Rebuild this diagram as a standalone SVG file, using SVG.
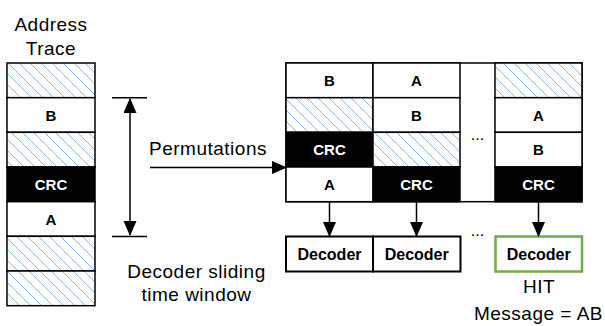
<svg xmlns="http://www.w3.org/2000/svg" width="605" height="326" viewBox="0 0 605 326">
<defs>
<pattern id="hatch" patternUnits="userSpaceOnUse" width="11" height="11">
<rect width="11" height="11" fill="#fff"/>
<path d="M0,0 L11,11 M-2,9 L2,13 M9,-2 L13,2" stroke="#8DBBE4" stroke-width="1"/>
</pattern>
<marker id="ah" markerUnits="userSpaceOnUse" markerWidth="16" markerHeight="14" refX="14" refY="6.5" orient="auto-start-reverse">
<path d="M0,0 L15,6.5 L0,13 Z" fill="#000"/>
</marker>
</defs>
<style>
.t{font-family:"Liberation Sans",Arial,sans-serif;font-size:19px;letter-spacing:0.5px;fill:#000;text-anchor:middle}
.b{font-family:"Liberation Sans",Arial,sans-serif;font-size:15px;font-weight:bold;text-anchor:middle;fill:#000}
.d{font-size:16px}
.w{fill:#fff}
.cell{stroke:#000;stroke-width:1.5}
.h{fill:url(#hatch)}
.e{fill:#fff}
.k{fill:#000}
.box{fill:#fff;stroke:#000;stroke-width:2}
.ln{stroke:#000;stroke-width:1.5;fill:none}
.dots{font-family:"Liberation Sans",Arial,sans-serif;font-size:16px;text-anchor:middle;fill:#000}
</style>
<rect width="605" height="326" fill="#fff"/>

<g id="title">
<text class="t" x="51" y="31">Address</text>
<text class="t" x="51" y="55">Trace</text>
</g>

<g id="trace">
<g id="tr1"><rect class="cell h" x="7" y="63" width="88" height="34.7"/></g>
<g id="tr2"><rect class="cell e" x="7" y="97.7" width="88" height="34.6"/><text class="b" x="51" y="120.5">B</text></g>
<g id="tr3"><rect class="cell h" x="7" y="132.3" width="88" height="34.7"/></g>
<g id="tr4"><rect class="cell k" x="7" y="167" width="88" height="34.7"/><text class="b w" x="51" y="189.8">CRC</text></g>
<g id="tr5"><rect class="cell e" x="7" y="201.7" width="88" height="34.6"/><text class="b" x="51" y="224.5">A</text></g>
<g id="tr6"><rect class="cell h" x="7" y="236.3" width="88" height="34.7"/></g>
<g id="tr7"><rect class="cell h" x="7" y="271" width="88" height="34.7"/></g>
</g>

<g id="window">
<line class="ln" x1="112" y1="97.7" x2="147" y2="97.7"/>
<line class="ln" x1="112" y1="236.5" x2="147" y2="236.5"/>
<text class="t" x="196.5" y="278">Decoder sliding</text>
<text class="t" x="196.5" y="301">time window</text>
</g>

<g id="perm-label"><text class="t" x="208" y="155">Permutations</text></g>

<g id="grid">
<rect class="cell e" x="286" y="63" width="296" height="138.7"/>
<g id="c1r1"><rect class="cell e" x="286" y="63" width="87" height="34.7"/><text class="b" x="329.5" y="85.8">B</text></g>
<g id="c1r2"><rect class="cell h" x="286" y="97.7" width="87" height="34.6"/></g>
<g id="c1r3"><rect class="cell k" x="286" y="132.3" width="87" height="34.7"/><text class="b w" x="329.5" y="155.1">CRC</text></g>
<g id="c1r4"><rect class="cell e" x="286" y="167" width="87" height="34.7"/><text class="b" x="329.5" y="189.8">A</text></g>
<g id="c2r1"><rect class="cell e" x="373" y="63" width="87" height="34.7"/><text class="b" x="416.5" y="85.8">A</text></g>
<g id="c2r2"><rect class="cell e" x="373" y="97.7" width="87" height="34.6"/><text class="b" x="416.5" y="120.5">B</text></g>
<g id="c2r3"><rect class="cell h" x="373" y="132.3" width="87" height="34.7"/></g>
<g id="c2r4"><rect class="cell k" x="373" y="167" width="87" height="34.7"/><text class="b w" x="416.5" y="189.8">CRC</text></g>
<g id="gap"><text class="dots" x="477.5" y="140">...</text></g>
<g id="c3r1"><rect class="cell h" x="495" y="63" width="87" height="34.7"/></g>
<g id="c3r2"><rect class="cell e" x="495" y="97.7" width="87" height="34.6"/><text class="b" x="538.5" y="120.5">A</text></g>
<g id="c3r3"><rect class="cell e" x="495" y="132.3" width="87" height="34.7"/><text class="b" x="538.5" y="155.1">B</text></g>
<g id="c3r4"><rect class="cell k" x="495" y="167" width="87" height="34.7"/><text class="b w" x="538.5" y="189.8">CRC</text></g>
</g>

<g id="dec1"><rect class="box" x="286" y="236.5" width="87" height="35"/><text class="b d" x="329.5" y="259.5">Decoder</text></g>
<g id="dec2"><rect class="box" x="373" y="236.5" width="87.5" height="35"/><text class="b d" x="416.7" y="259.5">Decoder</text></g>
<g id="dots2"><text class="dots" x="477.5" y="236">...</text></g>
<g id="dec3"><rect class="box" x="495.5" y="236.5" width="86.5" height="35" style="stroke:#70AD47;stroke-width:2.5"/><text class="b d" x="538.7" y="259.5">Decoder</text></g>
<g id="result">
<text class="t" x="539" y="293">HIT</text>
<text class="t" x="538.5" y="320">Message = AB</text>
</g>

<g id="connectors">
<line class="ln" x1="130" y1="99" x2="130" y2="235" marker-start="url(#ah)" marker-end="url(#ah)"/>
<line class="ln" x1="150" y1="167.5" x2="286" y2="167.5" marker-end="url(#ah)"/>
<line class="ln" x1="329.5" y1="202" x2="329.5" y2="236" marker-end="url(#ah)"/>
<line class="ln" x1="416.5" y1="202" x2="416.5" y2="236" marker-end="url(#ah)"/>
<line class="ln" x1="538.5" y1="202" x2="538.5" y2="236" marker-end="url(#ah)"/>
</g>
</svg>
